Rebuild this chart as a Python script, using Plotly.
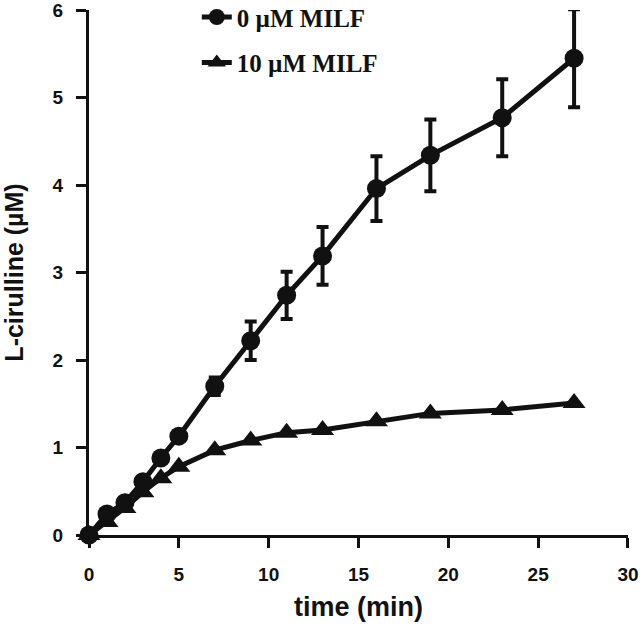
import plotly.graph_objects as go

time_min = [0, 1, 2, 3, 4, 5, 7, 9, 11, 13, 16, 19, 23, 27]
cit_0uM = [0, 0.24, 0.37, 0.61, 0.88, 1.13, 1.70, 2.22, 2.74, 3.19, 3.96, 4.34, 4.77, 5.45]
cit_0uM_err = [0, 0, 0, 0, 0, 0, 0.1, 0.22, 0.27, 0.33, 0.37, 0.41, 0.44, 0.56]
cit_10uM = [0, 0.15, 0.31, 0.49, 0.65, 0.78, 0.97, 1.08, 1.17, 1.20, 1.30, 1.39, 1.43, 1.51]
series_names = ["0 µM MILF", "10 µM MILF"]
x_ticks = [0, 5, 10, 15, 20, 25, 30]
y_ticks = [0, 1, 2, 3, 4, 5, 6]

INK = "#111111"
SANS = "Liberation Sans"
SERIF = "Liberation Serif"

fig = go.Figure()
fig.add_trace(go.Scatter(
    x=time_min, y=cit_0uM, name=series_names[0], legendgroup="a",
    mode="lines+markers", cliponaxis=False,
    line=dict(color=INK, width=5),
    marker=dict(symbol="circle", size=19, color=INK),
    error_y=dict(type="data", array=cit_0uM_err, visible=True,
                 color=INK, thickness=4, width=6),
))
fig.add_trace(go.Scatter(
    x=time_min, y=cit_10uM, name=series_names[1], legendgroup="b",
    mode="lines+markers", cliponaxis=False,
    line=dict(color=INK, width=5),
    marker=dict(symbol="triangle-up", size=20, color=INK),
))

axis_common = dict(
    showline=True, linecolor=INK, linewidth=3, mirror=False,
    ticks="outside", ticklen=10, tickwidth=3, tickcolor=INK,
    showgrid=False, zeroline=False, layer="below traces", automargin=False,
    ticklabeloverflow="allow",
    tickfont=dict(family=SANS, size=19, color=INK, weight="bold"),
)

fig.update_layout(
    width=640, height=626, autosize=False,
    margin=dict(l=89, r=12, t=10, b=91, autoexpand=False),
    paper_bgcolor="white", plot_bgcolor="white",
    xaxis=dict(range=[0, 30.001], tickvals=x_ticks, ticklabelstandoff=10,
               title=dict(text="time (min)", standoff=14,
                          font=dict(family=SANS, size=27, color=INK, weight="bold")),
               **axis_common),
    yaxis=dict(range=[0, 6.001], tickvals=y_ticks, ticklabelstandoff=9,
               title=dict(text="L-cirulline (µM)", standoff=24,
                          font=dict(family=SANS, size=25, color=INK, weight="bold")),
               **axis_common),
    legend=dict(x=0.2, y=1.03, xanchor="left", yanchor="top",
                bgcolor="rgba(0,0,0,0)", tracegroupgap=10,
                font=dict(family=SERIF, size=25, color=INK, weight="bold")),
    showlegend=True,
)

fig.write_html(
    "out.html",
    config={"displayModeBar": False},
    post_script="document.body.style.margin='0';document.body.style.overflow='hidden';",
)
